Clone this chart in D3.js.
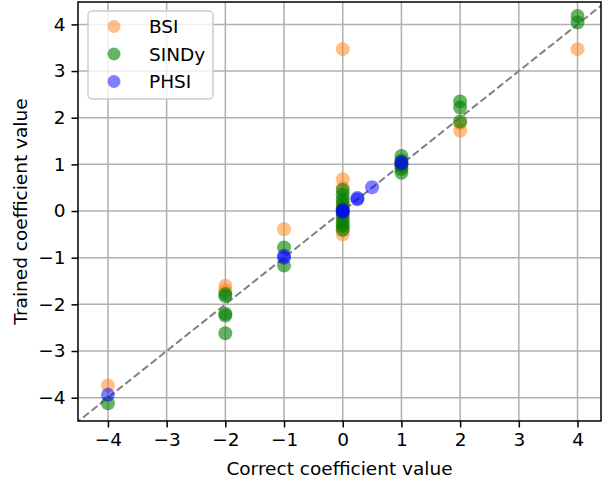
<!DOCTYPE html>
<html lang="en">
<head>
<meta charset="utf-8">
<title>Trained vs correct coefficients</title>
<script src="https://d3js.org/d3.v7.min.js"></script>
<style>
    body, html { margin: 0; padding: 0; background: white; }
    svg { display: block; }
    text { font-family: "DejaVu Sans", sans-serif; }
    .grid line { stroke: #b0b0b0; stroke-width: 1.5px; }
</style>
</head>
<body>
<svg id="chart" width="602" height="482"></svg>
<script>
// ---- data ----
var bsiX   = [0, 0, 0, 0, 0, 0, 0, 0, 0, 0, -1, 1, 1, -2, -2, 2, 2, -4, 4];
var bsiY   = [3.47, 0.68, 0.5, 0.2, 0.1, -0.1, -0.2, -0.3, -0.4, -0.5, -0.39, 1.0, 0.95, -1.6, -1.7, 1.88, 1.72, -3.74, 3.47];

var sindyX = [0, 0, 0, 0, 0, 0, 0, 0, 0, 0, -1, -1, 1, 1, 1, 1, 1, -2, -2, -2, -2, -2, 2, 2, 2, -4, 4, 4];
var sindyY = [0.45, 0.35, 0.25, 0.15, 0.05, -0.05, -0.15, -0.25, -0.32, -0.4, -0.78, -1.17, 1.18, 1.08, 0.98, 0.9, 0.82, -1.78, -1.82, -2.2, -2.24, -2.62, 2.35, 2.22, 1.92, -4.12, 4.18, 4.04];

var phsiX  = [0, 0, 0, 0.25, 0.25, 0.5, 1, 1, -1, -1, -4];
var phsiY  = [0, 0.02, -0.02, 0.25, 0.28, 0.51, 1.02, 1.05, -1.0, -0.96, -3.94];

var seriesNames  = ["BSI", "SINDy", "PHSI"];
var seriesColors = ["#ff7f0e", "green", "blue"];
var seriesAlpha  = [0.5, 0.6, 0.5];
var tickValues   = [-4, -3, -2, -1, 0, 1, 2, 3, 4];

var series = [
    {name: seriesNames[0], color: seriesColors[0], alpha: seriesAlpha[0], x: bsiX, y: bsiY},
    {name: seriesNames[1], color: seriesColors[1], alpha: seriesAlpha[1], x: sindyX, y: sindyY},
    {name: seriesNames[2], color: seriesColors[2], alpha: seriesAlpha[2], x: phsiX, y: phsiY}
];

var pLeft = 78, pRight = 601, pTop = 2, pBottom = 421;
var fontSize = 18.5;

var x = d3.scaleLinear().domain([-4.51, 4.4]).range([pLeft, pRight]);
var y = d3.scaleLinear().domain([-4.5, 4.48]).range([pBottom, pTop]);

var svg = d3.select("#chart");

// grid
var grid = svg.append("g").attr("class", "grid");
grid.selectAll(".gx").data(tickValues).enter().append("line")
    .attr("x1", function(d) { return x(d); }).attr("x2", function(d) { return x(d); })
    .attr("y1", pTop).attr("y2", pBottom);
grid.selectAll(".gy").data(tickValues).enter().append("line")
    .attr("y1", function(d) { return y(d); }).attr("y2", function(d) { return y(d); })
    .attr("x1", pLeft).attr("x2", pRight);

// clip
svg.append("clipPath").attr("id", "clip").append("rect")
    .attr("x", pLeft).attr("y", pTop).attr("width", pRight - pLeft).attr("height", pBottom - pTop);

// diagonal reference line
svg.append("line")
    .attr("clip-path", "url(#clip)")
    .attr("x1", x(-5)).attr("y1", y(-5))
    .attr("x2", x(5)).attr("y2", y(5))
    .attr("stroke", "#808080")
    .attr("stroke-width", 2)
    .attr("stroke-dasharray", "7.5,3.3");

// points
series.forEach(function(s) {
    svg.append("g").attr("clip-path", "url(#clip)")
        .selectAll("circle")
        .data(d3.range(s.x.length))
        .enter().append("circle")
        .attr("cx", function(i) { return x(s.x[i]); })
        .attr("cy", function(i) { return y(s.y[i]); })
        .attr("r", 7)
        .attr("fill", s.color)
        .attr("fill-opacity", s.alpha);
});

// axes
function fmt(d) { return d < 0 ? "\u2212" + Math.abs(d) : d; }
var xAxis = d3.axisBottom(x).tickValues(tickValues).tickSize(6.5).tickPadding(5).tickFormat(fmt);
var yAxis = d3.axisLeft(y).tickValues(tickValues).tickSize(6.5).tickPadding(6).tickFormat(fmt);

var gx = svg.append("g").attr("transform", "translate(0," + pBottom + ")").call(xAxis);
var gy = svg.append("g").attr("transform", "translate(" + pLeft + ",0)").call(yAxis);
[gx, gy].forEach(function(g) {
    g.attr("font-size", fontSize).attr("font-family", "DejaVu Sans, sans-serif");
    g.select(".domain").remove();
    g.selectAll("line").attr("stroke", "black").attr("stroke-width", 1.5);
    g.selectAll("text").attr("fill", "black");
});

// spines
svg.append("rect")
    .attr("x", pLeft).attr("y", pTop)
    .attr("width", pRight - pLeft).attr("height", pBottom - pTop)
    .attr("fill", "none").attr("stroke", "black").attr("stroke-width", 1.5);

// axis labels
svg.append("text")
    .attr("x", (pLeft + pRight) / 2).attr("y", 475)
    .attr("text-anchor", "middle").attr("font-size", fontSize)
    .text("Correct coefficient value");
svg.append("text")
    .attr("transform", "translate(27," + ((pTop + pBottom) / 2) + ") rotate(-90)")
    .attr("text-anchor", "middle").attr("font-size", fontSize)
    .text("Trained coefficient value");

// legend
var legend = svg.append("g").attr("id", "legend");
legend.append("rect")
    .attr("x", 88).attr("y", 11).attr("width", 125).attr("height", 88)
    .attr("rx", 4)
    .attr("fill", "white").attr("fill-opacity", 0.8)
    .attr("stroke", "#cccccc").attr("stroke-width", 1.5);

var legenditem = legend.selectAll(".legenditem")
    .data(series)
    .enter().append("g")
    .attr("class", "legenditem")
    .attr("transform", function(d, i) { return "translate(0," + (26.5 + i * 27.5) + ")"; });

legenditem.append("circle")
    .attr("cx", 114).attr("cy", 0).attr("r", 6.5)
    .attr("fill", function(d) { return d.color; })
    .attr("fill-opacity", function(d) { return d.alpha; });

legenditem.append("text")
    .attr("x", 149).attr("y", 6.5)
    .attr("font-size", fontSize)
    .text(function(d) { return d.name; });
</script>
</body>
</html>
